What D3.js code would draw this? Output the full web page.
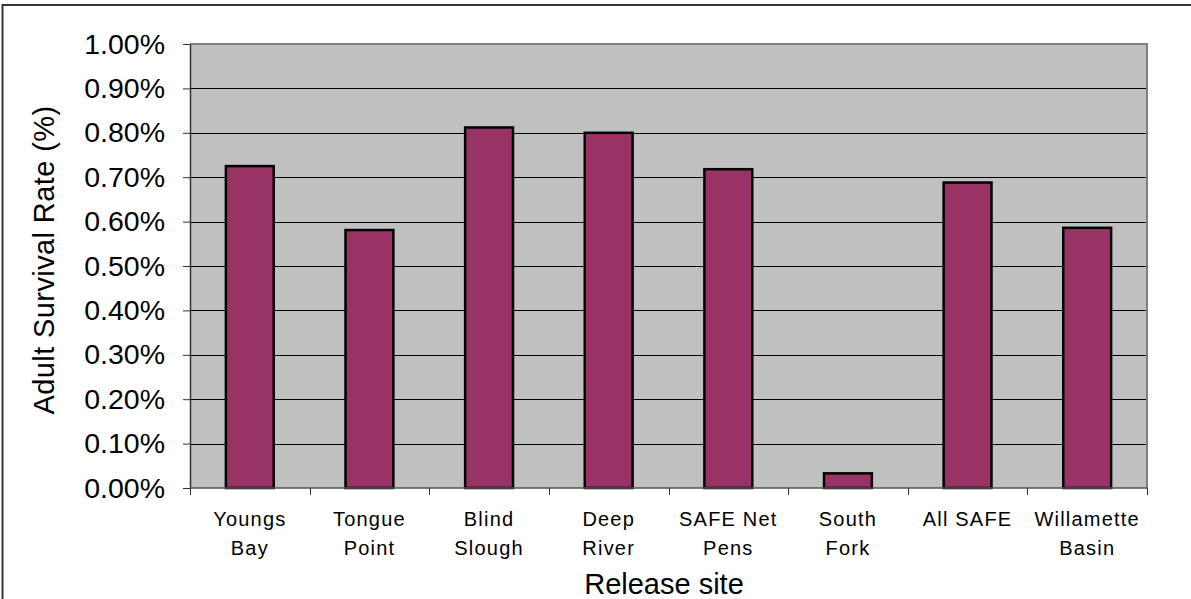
<!DOCTYPE html>
<html>
<head>
<meta charset="utf-8">
<script src="https://cdn.jsdelivr.net/npm/d3@7"></script>
<style>
  html, body { margin: 0; padding: 0; background: #fff; }
  svg { display: block; font-family: "Liberation Sans", Arial, sans-serif; }
</style>
</head>
<body>
<svg id="chart" width="1191" height="599"></svg>
<script>
// Adult survival rate by release site
const sites = [
  ["Youngs", "Bay"],
  ["Tongue", "Point"],
  ["Blind", "Slough"],
  ["Deep", "River"],
  ["SAFE Net", "Pens"],
  ["South", "Fork"],
  ["All SAFE"],
  ["Willamette", "Basin"]
];
const survival = [0.725, 0.581, 0.812, 0.800, 0.718, 0.033, 0.688, 0.586];
const yTicks = [0, 0.1, 0.2, 0.3, 0.4, 0.5, 0.6, 0.7, 0.8, 0.9, 1.0];

const svg = d3.select("#chart");
const plot = { left: 190, top: 44, right: 1147, bottom: 488 };

// frame around the whole chart
svg.append("rect")
  .attr("x", 2.5).attr("y", 5).attr("width", 1250).attr("height", 700)
  .attr("fill", "#fff").attr("stroke", "#333").attr("stroke-width", 2);

const keys = sites.map((d, i) => i);
const x = d3.scaleBand().domain(keys).range([plot.left, plot.right]).paddingInner(0).paddingOuter(0);
const y = d3.scaleLinear().domain([0, 1.0]).range([plot.bottom, plot.top]);

// plot area background
svg.append("rect")
  .attr("x", plot.left).attr("y", plot.top)
  .attr("width", plot.right - plot.left).attr("height", plot.bottom - plot.top)
  .attr("fill", "#c0c0c0");

// horizontal gridlines
svg.append("g").selectAll("line")
  .data(yTicks.filter(t => t > 0 && t < 1))
  .join("line")
  .attr("x1", plot.left).attr("x2", plot.right)
  .attr("y1", d => Math.round(y(d)) + 0.5).attr("y2", d => Math.round(y(d)) + 0.5)
  .attr("stroke", "#000").attr("stroke-width", 1);

// plot area top & right edges
svg.append("path")
  .attr("d", `M${plot.left},${plot.top} H${plot.right} V${plot.bottom}`)
  .attr("fill", "none").attr("stroke", "#808080").attr("stroke-width", 2);

// bars
const barW = x.bandwidth() * 0.4;
svg.append("g").selectAll("rect")
  .data(survival)
  .join("rect")
  .attr("x", (d, i) => x(i) + (x.bandwidth() - barW) / 2)
  .attr("y", d => y(d))
  .attr("width", barW)
  .attr("height", d => y(0) - y(d))
  .attr("fill", "#993366")
  .attr("stroke", "#000")
  .attr("stroke-width", 2.5);

// y axis
const yAxis = d3.axisLeft(y)
  .tickValues(yTicks)
  .tickFormat(d => d.toFixed(2) + "%")
  .tickSizeOuter(0)
  .tickSizeInner(7)
  .tickPadding(18);
const yg = svg.append("g").attr("transform", `translate(${plot.left},0)`).call(yAxis);
yg.select(".domain").attr("stroke", "#333").attr("stroke-width", 1.5);
yg.selectAll(".tick line").attr("stroke", "#333");
yg.selectAll(".tick text")
  .attr("font-size", 28.5).attr("fill", "#000")
  .attr("font-family", "Liberation Sans, Arial, sans-serif");

// x axis: ticks at category boundaries
const xg = svg.append("g");
xg.append("line")
  .attr("x1", plot.left).attr("x2", plot.right)
  .attr("y1", plot.bottom).attr("y2", plot.bottom)
  .attr("stroke", "#555").attr("stroke-width", 1.5);
const bounds = keys.map(i => x(i)).concat([plot.right]);
xg.selectAll("line.tk")
  .data(bounds)
  .join("line").attr("class", "tk")
  .attr("x1", d => Math.round(d) + 0.5).attr("x2", d => Math.round(d) + 0.5)
  .attr("y1", plot.bottom).attr("y2", plot.bottom + 7)
  .attr("stroke", "#333").attr("stroke-width", 1);

// category labels
const lbl = xg.selectAll("text.cat")
  .data(sites)
  .join("text").attr("class", "cat")
  .attr("text-anchor", "middle")
  .attr("font-size", 20)
  .attr("letter-spacing", 1.2)
  .attr("fill", "#000");
lbl.each(function(lines, i) {
  const t = d3.select(this);
  lines.forEach((s, k) => {
    t.append("tspan")
      .attr("x", x(i) + x.bandwidth() / 2)
      .attr("y", 526 + k * 29)
      .text(s);
  });
});

// axis titles
svg.append("text")
  .attr("x", 664)
  .attr("y", 594)
  .attr("text-anchor", "middle")
  .attr("font-size", 29)
  .attr("fill", "#000")
  .text("Release site");

svg.append("text")
  .attr("transform", `translate(54,260) rotate(-90)`)
  .attr("text-anchor", "middle")
  .attr("font-size", 29)
  .attr("letter-spacing", 0.4)
  .attr("fill", "#000")
  .text("Adult Survival Rate (%)");
</script>
</body>
</html>
